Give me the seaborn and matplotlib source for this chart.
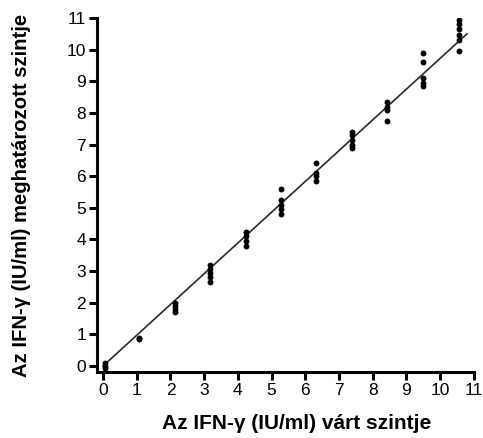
import numpy as np
import pandas as pd
import matplotlib
matplotlib.use("Agg")
import matplotlib.pyplot as plt
import seaborn as sns

# Expected vs measured IFN-gamma levels (IU/ml), replicate measurements per level
expected = [0.05, 0.05, 0.05,
            1.07, 1.07,
            2.13, 2.13, 2.13, 2.13,
            3.18, 3.18, 3.18, 3.18, 3.18,
            4.24, 4.24, 4.24, 4.24,
            5.28, 5.28, 5.28, 5.28, 5.28,
            6.32, 6.32, 6.32, 6.32,
            7.39, 7.39, 7.39, 7.39, 7.39,
            8.43, 8.43, 8.43, 8.43,
            9.50, 9.50, 9.50, 9.50, 9.50,
            10.55, 10.55, 10.55, 10.55, 10.55, 10.55]
measured = [0.0, 0.08, -0.05,
            0.85, 0.9,
            1.7, 1.8, 1.9, 2.0,
            2.65, 2.8, 2.95, 3.05, 3.2,
            3.8, 3.95, 4.1, 4.25,
            4.8, 4.95, 5.1, 5.25, 5.6,
            5.85, 6.0, 6.1, 6.4,
            6.9, 7.0, 7.15, 7.3, 7.4,
            7.75, 8.1, 8.2, 8.35,
            8.85, 8.95, 9.1, 9.6, 9.9,
            9.95, 10.3, 10.45, 10.65, 10.8, 10.95]

fit_x = [0.0, 10.8]
fit_y = [0.0, 10.5]

x_ticks = list(range(0, 12))
y_ticks = list(range(0, 12))
xlabel = "Az IFN-γ (IU/ml) várt szintje"
ylabel = "Az IFN-γ (IU/ml) meghatározott szintje"

sns.set_theme(style="ticks")
plt.rcParams['font.family'] = ['Liberation Sans', 'DejaVu Sans']

fig = plt.figure(figsize=(4.83, 4.38), dpi=100)
ax = fig.add_axes([0.2008, 0.1507, 0.7802, 0.8083])

df = pd.DataFrame({"x": expected, "y": measured})
sns.lineplot(x=fit_x, y=fit_y, ax=ax, color="#2a2a2a", linewidth=1.2)
sns.scatterplot(data=df, x="x", y="y", ax=ax, color="black", s=18,
                edgecolor="black", linewidth=0, zorder=3)

ax.set_xlim(-0.18, 11)
ax.set_ylim(-0.19, 11)
ax.set_xticks(x_ticks)
ax.set_yticks(y_ticks)
ax.set_xticklabels([str(t) for t in x_ticks], fontsize=12.5)
ax.set_yticklabels([str(t) for t in y_ticks], fontsize=12.5)
ax.tick_params(axis="both", length=6, width=2.2, color="black", pad=2, labelcolor="black")
for side in ["left", "bottom"]:
    ax.spines[side].set_linewidth(2.2)
    ax.spines[side].set_color("black")
for side in ["top", "right"]:
    ax.spines[side].set_visible(False)

ax.set_xlabel(xlabel, fontsize=15, fontweight="bold", color="black")
ax.set_ylabel(ylabel, fontsize=14.6, fontweight="bold", color="black")
ax.xaxis.set_label_coords(0.53, -0.12)
ax.yaxis.set_label_coords(-0.175, 0.5)

fig.savefig("out.png", dpi=100, facecolor="white")
